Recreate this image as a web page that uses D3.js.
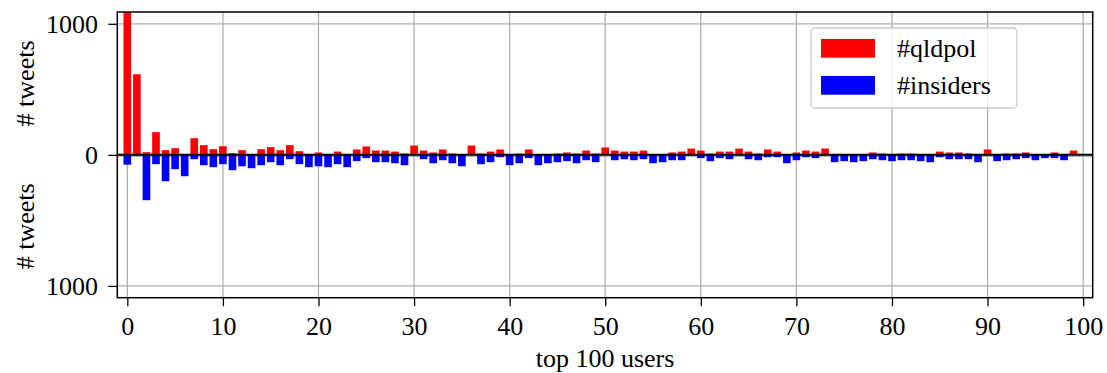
<!DOCTYPE html>
<html>
<head>
<meta charset="utf-8">
<script src="https://cdn.jsdelivr.net/npm/d3@7"></script>
<style>
  html, body { margin: 0; padding: 0; background: #fff; }
  svg { display: block; }
  text { font-family: "Liberation Serif", "DejaVu Serif", serif; fill: #000; }
  .axis text { font-size: 26px; }
  .axis path, .axis line { stroke: #000; stroke-width: 1.3px; }
  .grid line { stroke: #b0b0b0; stroke-width: 1.3px; }
</style>
</head>
<body>
<div id="chart"></div>
<script>
// tweets per user, top 100 users ranked
const qldpol = [
  1150, 615, 20, 173, 36, 51, 0, 127, 74, 43,
  66, 13, 36, 0, 43, 59, 36, 74, 28, 0,
  18, 0, 25, 0, 41, 64, 33, 33, 25, 10,
  71, 33, 18, 41, 10, 0, 71, 10, 25, 41,
  0, 10, 41, 0, 3, 10, 18, 10, 33, 10,
  56, 33, 25, 25, 33, 0, 0, 18, 25, 48,
  33, 10, 25, 25, 48, 25, 10, 41, 25, 0,
  18, 33, 25, 48, 0, 0, 0, 0, 18, 10,
  0, 10, 10, 0, 0, 25, 18, 18, 10, 0,
  41, 0, 10, 10, 18, 0, 0, 18, 0, 33,
]
const insiders = [
  75, 5, 346, 71, 201, 109, 163, 33, 79, 94,
  71, 117, 87, 102, 79, 56, 79, 33, 71, 94,
  87, 94, 71, 94, 48, 25, 56, 56, 64, 79,
  5, 33, 64, 41, 64, 87, 0, 71, 56, 18,
  79, 64, 25, 79, 64, 56, 48, 64, 41, 56,
  0, 41, 33, 41, 33, 64, 56, 41, 41, 5,
  25, 48, 25, 33, 5, 33, 41, 18, 18, 64,
  41, 18, 25, 5, 56, 48, 56, 48, 33, 41,
  48, 41, 41, 48, 56, 18, 33, 33, 33, 56,
  5, 48, 41, 33, 25, 41, 25, 25, 41, 0,
]
const users = qldpol.map((_, i) => i)
const xTicks = [0, 10, 20, 30, 40, 50, 60, 70, 80, 90, 100]
const yTicks = [1000, 0, -1000]
const seriesNames = ['#qldpol', '#insiders']
const seriesColors = ['#ff0000', '#0000ff']

// SIZES
const W = 1107
const H = 373
const plot = { left: 117.3, right: 1092.7, top: 12, bottom: 297.7 }
const barWidth = 0.8

const svg = d3.select('#chart').append('svg')
  .attr('width', W)
  .attr('height', H)

// SCALES
const x = d3.scaleLinear().domain([-1.05, 101]).range([plot.left, plot.right])
const y = d3.scaleLinear().domain([-1090, 1090]).range([plot.bottom, plot.top])
const bw = x(barWidth) - x(0)

svg.append('defs').append('clipPath').attr('id', 'clip')
  .append('rect')
  .attr('x', plot.left).attr('y', plot.top)
  .attr('width', plot.right - plot.left).attr('height', plot.bottom - plot.top)

// GRIDLINES
const grid = svg.append('g').attr('class', 'grid').attr('clip-path', 'url(#clip)')
grid.selectAll('line.v')
  .data(xTicks)
  .join('line')
  .attr('class', 'v')
  .attr('x1', d => x(d)).attr('x2', d => x(d))
  .attr('y1', plot.top).attr('y2', plot.bottom)
grid.selectAll('line.h')
  .data(yTicks)
  .join('line')
  .attr('class', 'h')
  .attr('x1', plot.left).attr('x2', plot.right)
  .attr('y1', d => y(d) + (d === 0 ? 1.4 : 0))
  .attr('y2', d => y(d) + (d === 0 ? 1.4 : 0))

// BARS
const bars = svg.append('g').attr('clip-path', 'url(#clip)')
bars.selectAll('rect.up')
  .data(users)
  .join('rect')
  .attr('class', 'up')
  .attr('x', d => x(d) - bw / 2)
  .attr('width', bw)
  .attr('y', d => y(qldpol[d]))
  .attr('height', d => y(0) - y(qldpol[d]))
  .attr('fill', seriesColors[0])
bars.selectAll('rect.down')
  .data(users)
  .join('rect')
  .attr('class', 'down')
  .attr('x', d => x(d) - bw / 2)
  .attr('width', bw)
  .attr('y', y(0))
  .attr('height', d => y(-insiders[d]) - y(0))
  .attr('fill', seriesColors[1])

// zero line on top of the bars
svg.append('line')
  .attr('x1', plot.left).attr('x2', plot.right)
  .attr('y1', y(0)).attr('y2', y(0))
  .attr('stroke', '#000').attr('stroke-width', 2)

// AXES
const xAxis = d3.axisBottom(x)
  .tickValues(xTicks)
  .tickSizeInner(8.5)
  .tickSizeOuter(0)
  .tickPadding(10)
svg.append('g')
  .attr('class', 'x axis')
  .attr('transform', `translate(0,${plot.bottom})`)
  .call(xAxis)
  .select('.domain').remove()

const yAxis = d3.axisLeft(y)
  .tickValues(yTicks)
  .tickFormat(d => Math.abs(d))
  .tickSizeInner(9)
  .tickSizeOuter(0)
  .tickPadding(10.3)
svg.append('g')
  .attr('class', 'y axis')
  .attr('transform', `translate(${plot.left},0)`)
  .call(yAxis)
  .select('.domain').remove()

// frame
svg.append('rect')
  .attr('x', plot.left).attr('y', plot.top)
  .attr('width', plot.right - plot.left).attr('height', plot.bottom - plot.top)
  .attr('fill', 'none').attr('stroke', '#000').attr('stroke-width', 1.5)

// AXIS NAMES
svg.append('text')
  .attr('x', (plot.left + plot.right) / 2)
  .attr('y', 366.5)
  .attr('text-anchor', 'middle')
  .style('font-size', '26px')
  .text('top 100 users')

const halves = [[plot.top, y(0)], [y(0), plot.bottom]]
svg.selectAll('text.yname')
  .data(halves)
  .join('text')
  .attr('class', 'yname')
  .attr('transform', d => `translate(33.5,${(d[0] + d[1]) / 2}) rotate(-90)`)
  .attr('text-anchor', 'middle')
  .style('font-size', '26px')
  .text('# tweets')

// LEGEND
const legend = svg.append('g').attr('transform', 'translate(811,28)')
legend.append('rect')
  .attr('width', 206).attr('height', 80)
  .attr('rx', 4).attr('ry', 4)
  .attr('fill', '#fff').attr('fill-opacity', 0.8)
  .attr('stroke', '#cccccc').attr('stroke-width', 1.3)
const item = legend.selectAll('g.item')
  .data(seriesNames)
  .join('g')
  .attr('class', 'item')
  .attr('transform', (d, i) => `translate(10,${11 + i * 37})`)
item.append('rect')
  .attr('width', 54).attr('height', 18.7)
  .attr('fill', (d, i) => seriesColors[i])
item.append('text')
  .attr('x', 76)
  .attr('y', 17.7)
  .style('font-size', '26px')
  .text(d => d)
</script>
</body>
</html>
